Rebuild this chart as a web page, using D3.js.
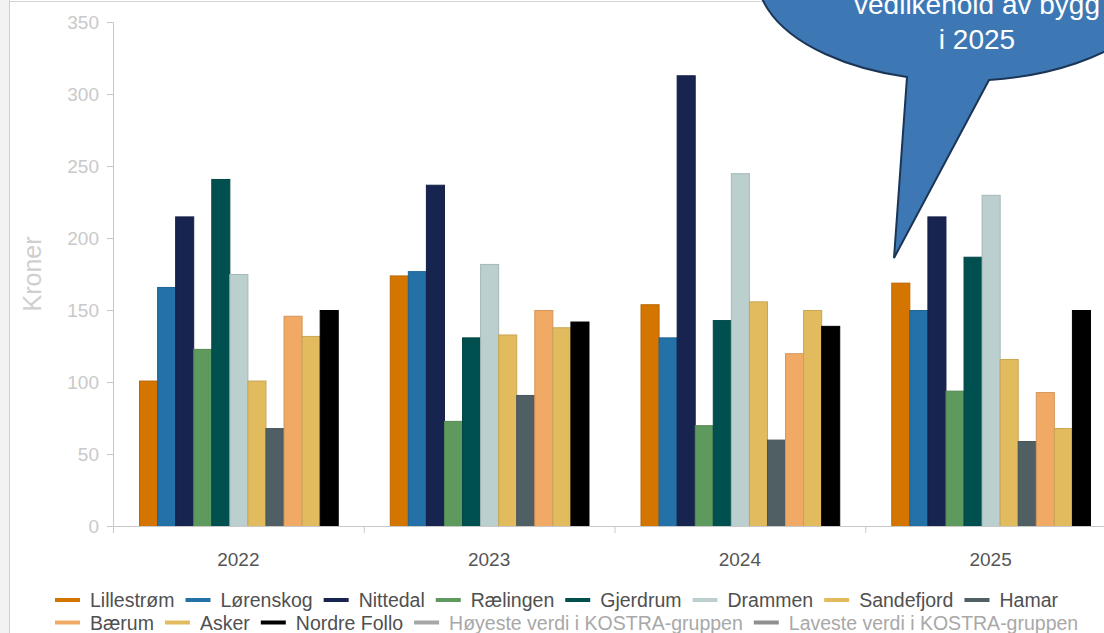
<!DOCTYPE html>
<html>
<head>
<meta charset="utf-8">
<script src="https://cdn.jsdelivr.net/npm/d3@7"></script>
<style>
  html, body { margin: 0; padding: 0; background: #fff; }
  svg { display: block; font-family: "Liberation Sans", Arial, sans-serif; }
</style>
</head>
<body>
<svg id="chart" width="1104" height="633"></svg>
<script>
// ---- Data ----
const years = ["2022", "2023", "2024", "2025"];
const seriesNames = ["Lillestrøm", "Lørenskog", "Nittedal", "Rælingen", "Gjerdrum", "Drammen", "Sandefjord", "Hamar", "Bærum", "Asker", "Nordre Follo"];
const lillestrom  = [101, 174, 154, 169];
const lorenskog   = [166, 177, 131, 150];
const nittedal    = [215, 237, 313, 215];
const ralingen    = [123, 73, 70, 94];
const gjerdrum    = [241, 131, 143, 187];
const drammen     = [175, 182, 245, 230];
const sandefjord  = [101, 133, 156, 116];
const hamar       = [68, 91, 60, 59];
const baerum      = [146, 150, 120, 93];
const asker       = [132, 138, 150, 68];
const nordreFollo = [150, 142, 139, 150];
const seriesValues = [lillestrom, lorenskog, nittedal, ralingen, gjerdrum, drammen, sandefjord, hamar, baerum, asker, nordreFollo];
const yTicks = [0, 50, 100, 150, 200, 250, 300, 350];
const extraLegend = ["Høyeste verdi i KOSTRA-gruppen", "Laveste verdi i KOSTRA-gruppen"];
const calloutLines = ["vedlikehold av bygg", "i 2025"];

// ---- Styles ----
const colors = ["#d47500", "#2471a8", "#172450", "#5e995e", "#00504f", "#bccfcf", "#e2bb5f", "#4f5f64", "#f0aa66", "#e2bb5f", "#000000"];
const extraColors = ["#a6a6a6", "#8f8f8f"];

const svg = d3.select("#chart");

// frame
svg.append("rect").attr("x", 0).attr("y", 0).attr("width", 9).attr("height", 633).attr("fill", "#f2f2f2");
svg.append("line").attr("x1", 9.5).attr("x2", 9.5).attr("y1", 0).attr("y2", 633).attr("stroke", "#cfcfcf");
svg.append("line").attr("x1", 9).attr("x2", 1104).attr("y1", 1.5).attr("y2", 1.5).attr("stroke", "#d4d4d4");

// scales
const x0 = d3.scaleBand().domain(years).range([113, 1116]).padding(0);
const x1 = d3.scaleBand().domain(seriesNames).range([0, x0.bandwidth()]).paddingInner(0).paddingOuter(1.44);
const y = d3.scaleLinear().domain([0, 350]).range([526, 22]);

// y axis
const yAxis = svg.append("g").attr("transform", "translate(113,0)")
  .call(d3.axisLeft(y).tickValues(yTicks).tickSize(6).tickPadding(8));
yAxis.select(".domain").attr("stroke", "#c8c8c8");
yAxis.selectAll(".tick line").attr("stroke", "#c8c8c8");
yAxis.selectAll(".tick text").attr("fill", "#c9c9c9").attr("font-size", 19)
  .attr("font-family", "'Liberation Sans', Arial, sans-serif");

svg.append("text")
  .attr("transform", "translate(32,274) rotate(-90)")
  .attr("text-anchor", "middle").attr("dominant-baseline", "central")
  .attr("fill", "#cfcfcf").attr("font-size", 25).text("Kroner");

// bars
const groups = svg.append("g").selectAll("g").data(years).join("g")
  .attr("transform", d => `translate(${x0(d)},0)`);
groups.selectAll("rect")
  .data((yr, yi) => seriesNames.map((s, si) => ({ s, si, v: seriesValues[si][yi] })))
  .join("rect")
  .attr("x", d => x1(d.s) + 0.5)
  .attr("width", x1.bandwidth())
  .attr("y", d => y(d.v) + 0.5)
  .attr("height", d => y(0) - y(d.v))
  .attr("fill", d => colors[d.si])
  .attr("stroke", d => d3.color(colors[d.si]).darker(0.35))
  .attr("stroke-width", 1);

// x axis
const xg = svg.append("g");
xg.append("line").attr("x1", 113).attr("x2", 1116).attr("y1", y(0) + 0.5).attr("y2", y(0) + 0.5).attr("stroke", "#c8c8c8");
xg.selectAll("line.tk").data(years.concat(["end"])).join("line").attr("class", "tk")
  .attr("x1", d => (d === "end" ? x0.range()[1] : x0(d)) + 0.5)
  .attr("x2", d => (d === "end" ? x0.range()[1] : x0(d)) + 0.5)
  .attr("y1", y(0)).attr("y2", y(0) + 7).attr("stroke", "#c8c8c8");
xg.selectAll("text").data(years).join("text")
  .attr("x", d => x0(d) + x0.bandwidth() / 2)
  .attr("y", 559)
  .attr("text-anchor", "middle").attr("dominant-baseline", "central")
  .attr("fill", "#555").attr("font-size", 19).text(d => d);

// legend
const legendItems = seriesNames.map((n, i) => ({ n, c: colors[i], tc: "#505050" }))
  .concat(extraLegend.map((n, i) => ({ n, c: extraColors[i], tc: "#a8a8a8" })));
const rows = [legendItems.slice(0, 8), legendItems.slice(8)];
const lg = svg.append("g");
rows.forEach((row, ri) => {
  let cx = 55;
  const cy = 600 + ri * 22.5;
  row.forEach(it => {
    lg.append("line").attr("x1", cx).attr("x2", cx + 25).attr("y1", cy).attr("y2", cy)
      .attr("stroke", it.c).attr("stroke-width", 4);
    const t = lg.append("text").attr("x", cx + 35).attr("y", cy)
      .attr("dominant-baseline", "central").attr("fill", it.tc).attr("font-size", 19.5).text(it.n);
    cx = cx + 35 + t.node().getComputedTextLength() + 11;
  });
});

// callout bubble
const bubble = svg.append("g");
bubble.append("path")
  .attr("d", "M 907 77 A 205 105 0 1 1 989 80 L 894 258 Z")
  .attr("fill", "#3d78b5").attr("stroke", "#1b3556").attr("stroke-width", 2).attr("stroke-linejoin", "miter");
bubble.selectAll("text").data(calloutLines).join("text")
  .attr("x", 977).attr("y", (d, i) => 14 + i * 35)
  .attr("text-anchor", "middle").attr("fill", "#ffffff").attr("font-size", 28).text(d => d);
</script>
</body>
</html>
